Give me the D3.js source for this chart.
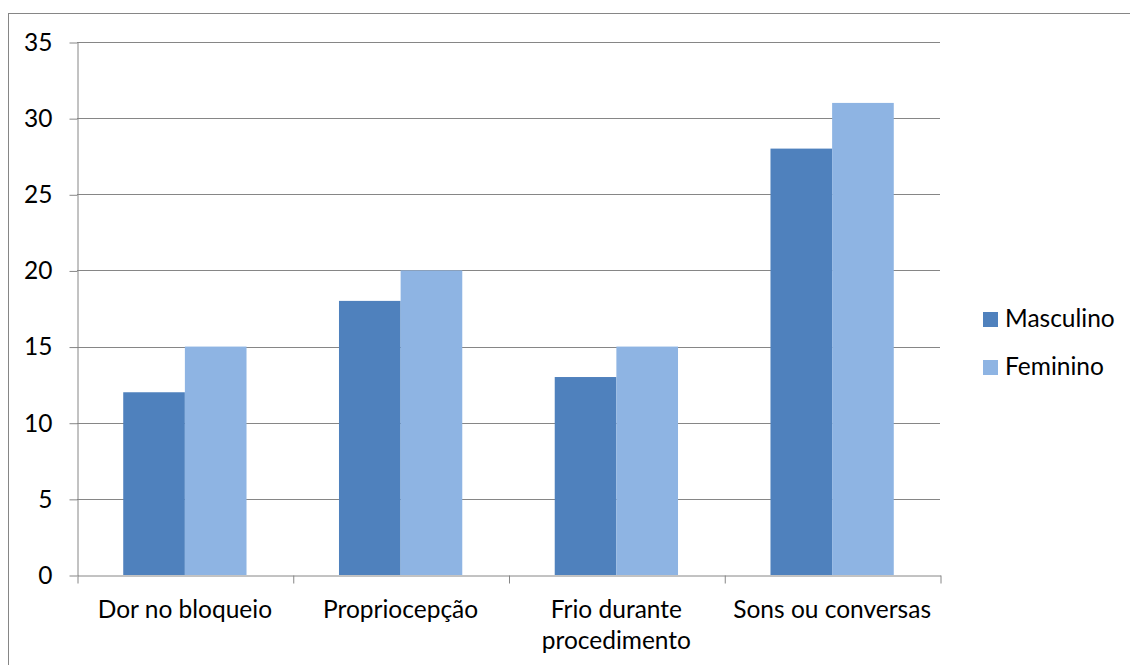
<!DOCTYPE html>
<html>
<head>
<meta charset="utf-8"/>
<title>Chart</title>
<script src="https://cdn.jsdelivr.net/npm/d3@7"></script>
<style>
  body { margin: 0; background: #fff; }
  svg text { font-family: Lato, "Open Sans", sans-serif; fill: #000; }
  .grid line, .axis path, .axis line { stroke: #868686; }
</style>
</head>
<body>
<script>
// categories and series
var categories = ["Dor no bloqueio", "Propriocepção", "Frio durante procedimento", "Sons ou conversas"];
var catLines = [["Dor no bloqueio"], ["Propriocepção"], ["Frio durante", "procedimento"], ["Sons ou conversas"]];
var seriesNames = ["Masculino", "Feminino"];
var masculino = [12, 18, 13, 28];
var feminino = [15, 20, 15, 31];
var yTicks = [0, 5, 10, 15, 20, 25, 30, 35];
var colors = ["#4F81BD", "#8EB4E3"];

var W = 1130, H = 665;
var plotL = 77, plotR = 940, plotT = 42, plotB = 575;
var fs = "24.5px";

var svg = d3.select("body").append("svg")
  .attr("width", W)
  .attr("height", H);

// outer chart border (cut off at right/bottom like the source)
svg.append("rect")
  .attr("x", 8.5).attr("y", 13.5)
  .attr("width", W).attr("height", H)
  .attr("fill", "none").attr("stroke", "#868686");

// gap width 150% of a bar, as in the source
var y = d3.scaleLinear().domain([0, 35]).range([plotB, plotT]);
var x0 = d3.scaleBand().domain(categories).range([plotL, plotR])
  .paddingInner(1.5 / 3.5).paddingOuter(0.75 / 3.5);
var xb = d3.scaleLinear().domain([0, categories.length]).range([plotL, plotR]);
var x1 = d3.scaleBand().domain(seriesNames).range([0, x0.bandwidth()]);

// gridlines
svg.append("g").attr("class", "grid")
  .selectAll("line").data(yTicks.filter(function(d) { return d > 0; }))
  .enter().append("line")
  .attr("x1", plotL).attr("x2", plotR)
  .attr("y1", function(d) { return Math.round(y(d)) + 0.5; })
  .attr("y2", function(d) { return Math.round(y(d)) + 0.5; });

// bars
var data = categories.map(function(c, i) {
  return { cat: c, vals: [masculino[i], feminino[i]] };
});
var groups = svg.selectAll("g.cat").data(data).enter().append("g")
  .attr("class", "cat")
  .attr("transform", function(d) { return "translate(" + x0(d.cat) + ",0)"; });
groups.selectAll("rect").data(function(d) {
    return d.vals.map(function(v, j) { return { s: seriesNames[j], v: v, j: j }; });
  })
  .enter().append("rect")
  .attr("x", function(d) { return x1(d.s); })
  .attr("width", x1.bandwidth())
  .attr("y", function(d) { return y(d.v); })
  .attr("height", function(d) { return plotB - y(d.v); })
  .attr("fill", function(d) { return colors[d.j]; });

// y axis
var yAxis = svg.append("g").attr("class", "axis")
  .attr("transform", "translate(" + (plotL + 0.5) + ",0.5)")
  .call(d3.axisLeft(y).tickValues(yTicks).tickSizeInner(8).tickSizeOuter(0).tickPadding(17));
yAxis.selectAll("text").style("font-size", fs).attr("fill", "#000");

// x axis: tick marks at category boundaries
svg.append("g").attr("class", "axis")
  .attr("transform", "translate(0.5," + (plotB + 0.5) + ")")
  .call(d3.axisBottom(xb).ticks(categories.length).tickFormat("").tickSizeInner(8).tickSizeOuter(0));

// category labels
var labels = svg.append("g").selectAll("text").data(categories).enter().append("text")
  .attr("text-anchor", "middle")
  .attr("x", function(d) { return x0(d) + x0.bandwidth() / 2; })
  .attr("y", 618)
  .style("font-size", fs);
labels.selectAll("tspan").data(function(d, i) { return catLines[i]; })
  .enter().append("tspan")
  .attr("x", function() { return d3.select(this.parentNode).attr("x"); })
  .attr("dy", function(d, i) { return i === 0 ? 0 : 31; })
  .text(function(d) { return d; });

// legend
var legend = svg.append("g").selectAll("g").data(seriesNames).enter().append("g")
  .attr("transform", function(d, i) { return "translate(983," + (312 + i * 48) + ")"; });
legend.append("rect")
  .attr("width", 15).attr("height", 15)
  .attr("fill", function(d, i) { return colors[i]; });
legend.append("text")
  .attr("x", 22).attr("y", 15)
  .style("font-size", fs)
  .text(function(d) { return d; });
</script>
</body>
</html>
